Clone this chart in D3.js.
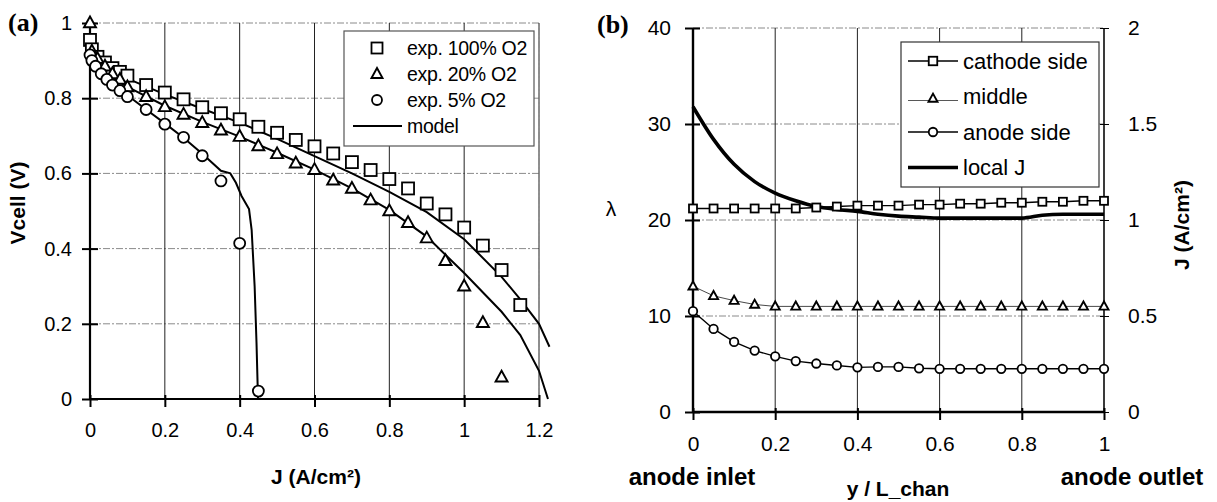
<!DOCTYPE html>
<html><head><meta charset="utf-8">
<script src="https://cdn.jsdelivr.net/npm/d3@7"></script>
<style>
body{margin:0;background:#fff}
svg{display:block}
text{font-family:"Liberation Sans",Arial,Helvetica,sans-serif;fill:#000}
text.serif{font-family:"Liberation Serif","Times New Roman",serif}
</style>
</head><body>
<svg id="c" width="1217" height="502"></svg>
<script>
// ---------- Panel (a) data ----------
const aTicksX = [0, 0.2, 0.4, 0.6, 0.8, 1, 1.2];
const aTicksY = [0, 0.2, 0.4, 0.6, 0.8, 1];

const sq100J = [0, 0.005, 0.02, 0.04, 0.06, 0.08, 0.1, 0.15, 0.2, 0.25, 0.3, 0.35, 0.4, 0.45, 0.5, 0.55, 0.6, 0.65, 0.7, 0.75, 0.8, 0.85, 0.9, 0.95, 1.0, 1.05, 1.1, 1.15];
const sq100V = [0.955, 0.93, 0.91, 0.895, 0.88, 0.87, 0.86, 0.835, 0.815, 0.797, 0.776, 0.76, 0.744, 0.724, 0.708, 0.689, 0.672, 0.653, 0.63, 0.609, 0.585, 0.56, 0.52, 0.491, 0.456, 0.408, 0.343, 0.25];

const tri20J = [0, 0.005, 0.02, 0.04, 0.06, 0.08, 0.1, 0.15, 0.2, 0.25, 0.3, 0.35, 0.4, 0.45, 0.5, 0.55, 0.6, 0.65, 0.7, 0.75, 0.8, 0.85, 0.9, 0.95, 1.0, 1.05, 1.1];
const tri20V = [1.0, 0.925, 0.905, 0.885, 0.865, 0.85, 0.83, 0.804, 0.777, 0.757, 0.735, 0.715, 0.698, 0.673, 0.652, 0.627, 0.61, 0.582, 0.56, 0.529, 0.5, 0.469, 0.428, 0.368, 0.3, 0.203, 0.058];

const circ5J = [0, 0.005, 0.015, 0.03, 0.045, 0.06, 0.08, 0.1, 0.15, 0.2, 0.25, 0.3, 0.35, 0.4, 0.45];
const circ5V = [0.915, 0.9, 0.885, 0.865, 0.85, 0.835, 0.82, 0.804, 0.77, 0.731, 0.696, 0.647, 0.58, 0.414, 0.021];

const m100J = [0, 0.02, 0.05, 0.1, 0.2, 0.3, 0.4, 0.5, 0.6, 0.7, 0.8, 0.9, 1.0, 1.1, 1.15, 1.2, 1.228];
const m100V = [0.95, 0.9, 0.875, 0.852, 0.81, 0.772, 0.735, 0.692, 0.646, 0.6, 0.551, 0.497, 0.425, 0.325, 0.265, 0.2, 0.139];

const m20J = [0, 0.02, 0.05, 0.1, 0.2, 0.3, 0.4, 0.5, 0.6, 0.7, 0.8, 0.9, 1.0, 1.1, 1.15, 1.2, 1.224];
const m20V = [0.93, 0.885, 0.86, 0.83, 0.78, 0.737, 0.698, 0.655, 0.61, 0.56, 0.503, 0.432, 0.335, 0.232, 0.17, 0.075, 0];

const m5J = [0, 0.02, 0.05, 0.1, 0.15, 0.2, 0.25, 0.3, 0.35, 0.375, 0.39, 0.405, 0.425, 0.432, 0.44, 0.445, 0.449];
const m5V = [0.915, 0.88, 0.85, 0.808, 0.77, 0.733, 0.695, 0.652, 0.607, 0.6, 0.575, 0.54, 0.505, 0.45, 0.3, 0.15, 0.0];

const aLegend = ["exp. 100% O2", "exp. 20% O2", "exp. 5% O2", "model"];

// ---------- Panel (b) data ----------
const bTicksX = [0, 0.2, 0.4, 0.6, 0.8, 1];
const bTicksL = [0, 10, 20, 30, 40];
const bTicksR = [0, 0.5, 1, 1.5, 2];
const yPos = [0, 0.05, 0.1, 0.15, 0.2, 0.25, 0.3, 0.35, 0.4, 0.45, 0.5, 0.55, 0.6, 0.65, 0.7, 0.75, 0.8, 0.85, 0.9, 0.95, 1.0];
const cathode = [21.2, 21.2, 21.2, 21.2, 21.2, 21.2, 21.3, 21.4, 21.5, 21.5, 21.5, 21.6, 21.6, 21.7, 21.7, 21.8, 21.8, 21.9, 21.9, 22.0, 22.0];
const middle = [13.1, 12.1, 11.6, 11.2, 11.0, 11.0, 11.0, 11.0, 11.0, 11.0, 11.0, 11.0, 11.0, 11.0, 11.0, 11.0, 11.0, 11.0, 11.0, 11.0, 11.0];
const anode = [10.5, 8.65, 7.3, 6.4, 5.8, 5.3, 5.05, 4.85, 4.65, 4.7, 4.7, 4.55, 4.5, 4.5, 4.5, 4.5, 4.5, 4.5, 4.5, 4.5, 4.5];
const localJ = [1.59, 1.42, 1.29, 1.2, 1.14, 1.1, 1.07, 1.055, 1.045, 1.03, 1.02, 1.015, 1.01, 1.01, 1.01, 1.01, 1.01, 1.025, 1.03, 1.03, 1.03];
const bLegend = ["cathode side", "middle", "anode side", "local J"];

// ---------- drawing ----------
const svg = d3.select("#c");
const GRIDDASH = "7,2,2,2";

function marker(g, type, x, y, s) {
  if (type === "sq") {
    g.append("rect").attr("x", x - s/2).attr("y", y - s/2).attr("width", s).attr("height", s)
      .attr("fill", "#fff").attr("stroke", "#000").attr("stroke-width", 1.8);
  } else if (type === "tri") {
    const h = s * 0.9;
    g.append("path").attr("d", `M${x},${y - h*0.6}L${x + s/2},${y + h*0.4}L${x - s/2},${y + h*0.4}Z`)
      .attr("fill", "#fff").attr("stroke", "#000").attr("stroke-width", 1.9).attr("stroke-linejoin", "miter");
  } else {
    g.append("circle").attr("cx", x).attr("cy", y).attr("r", s/2)
      .attr("fill", "#fff").attr("stroke", "#000").attr("stroke-width", 1.8);
  }
}

// ===== Panel (a) =====
const xA = d3.scaleLinear().domain([0, 1.2]).range([90, 539]);
const yA = d3.scaleLinear().domain([0, 1]).range([399, 23]);
const gA = svg.append("g");

gA.selectAll(".hg").data(aTicksY.filter(d => d > 0)).join("line")
  .attr("x1", xA(0)).attr("x2", xA(1.2)).attr("y1", d => yA(d)).attr("y2", d => yA(d))
  .attr("stroke", "#8a8a8a").attr("stroke-width", 1).attr("stroke-dasharray", GRIDDASH);
gA.selectAll(".vg").data(aTicksX.filter(d => d > 0)).join("line")
  .attr("x1", d => xA(d)).attr("x2", d => xA(d)).attr("y1", yA(0)).attr("y2", yA(1))
  .attr("stroke", "#222").attr("stroke-width", 1);
gA.append("line").attr("x1", xA(1.2)).attr("x2", xA(1.2)).attr("y1", yA(0)).attr("y2", yA(1))
  .attr("stroke", "#8a8a8a").attr("stroke-dasharray", GRIDDASH);

const axA_x = d3.axisBottom(xA).tickValues(aTicksX).tickFormat(d3.format("")).tickSize(0).tickPadding(24);
const axA_y = d3.axisLeft(yA).tickValues(aTicksY).tickFormat(d3.format("")).tickSize(0).tickPadding(18);
const gx = gA.append("g").attr("transform", `translate(0,${yA(0)})`).call(axA_x);
const gy = gA.append("g").attr("transform", `translate(${xA(0)},0)`).call(axA_y);
[gx, gy].forEach(g => { g.select(".domain").remove(); g.selectAll("text").attr("font-size", 20).style("font-family", "Liberation Sans, Arial, sans-serif"); });
gx.selectAll(".tick").append("line").attr("y1", -4).attr("y2", 8).attr("stroke", "#000").attr("stroke-width", 2);
gy.selectAll(".tick").append("line").attr("x1", -8).attr("x2", 8).attr("stroke", "#000").attr("stroke-width", 2);
gA.append("line").attr("x1", xA(0)).attr("x2", xA(0)).attr("y1", yA(0)).attr("y2", yA(1)).attr("stroke", "#000").attr("stroke-width", 2.2);
gA.append("line").attr("x1", xA(0)).attr("x2", xA(1.2)).attr("y1", yA(0)).attr("y2", yA(0)).attr("stroke", "#000").attr("stroke-width", 2.2);

const lineA = d3.line().x(d => xA(d[0])).y(d => yA(d[1])).curve(d3.curveLinear);
[[m100J, m100V], [m20J, m20V], [m5J, m5V]].forEach(([J, V]) => {
  gA.append("path").attr("d", lineA(J.map((j, i) => [j, V[i]])))
    .attr("fill", "none").attr("stroke", "#000").attr("stroke-width", 2);
});

const mkA = gA.append("g");
sq100J.forEach((j, i) => marker(mkA, "sq", xA(j), yA(sq100V[i]), 12));
tri20J.forEach((j, i) => marker(mkA, "tri", xA(j), yA(tri20V[i]), 12));
circ5J.forEach((j, i) => marker(mkA, "circ", xA(j), yA(circ5V[i]), 11));

const lgA = gA.append("g");
lgA.append("rect").attr("x", 344).attr("y", 31).attr("width", 190).attr("height", 115)
  .attr("fill", "#fff").attr("stroke", "#555").attr("stroke-width", 1.2);
const lgTypes = ["sq", "tri", "circ"];
aLegend.forEach((t, i) => {
  const cy = 48 + i * 26;
  if (i < 3) marker(lgA, lgTypes[i], 377, cy, i === 2 ? 10 : 11);
  else lgA.append("line").attr("x1", 353).attr("x2", 402).attr("y1", cy).attr("y2", cy).attr("stroke", "#000").attr("stroke-width", 2);
  lgA.append("text").attr("x", 407).attr("y", cy).attr("dy", "0.35em").attr("font-size", 19.5).attr("letter-spacing", -0.3).text(t);
});

gA.append("text").attr("class", "serif").attr("x", 8).attr("y", 31)
  .attr("font-weight", "bold").attr("font-size", 26).text("(a)");
gA.append("text").attr("transform", "translate(25,203) rotate(-90)").attr("text-anchor", "middle")
  .attr("font-weight", "bold").attr("font-size", 21).text("Vcell (V)");
gA.append("text").attr("x", 316).attr("y", 477).attr("dy", "0.35em").attr("text-anchor", "middle")
  .attr("font-weight", "bold").attr("font-size", 21).text("J (A/cm²)");

// ===== Panel (b) =====
const xB = d3.scaleLinear().domain([0, 1]).range([693, 1104]);
const yL = d3.scaleLinear().domain([0, 40]).range([412, 28]);
const yR = d3.scaleLinear().domain([0, 2]).range([412, 28]);
const gB = svg.append("g");

gB.selectAll(".hg").data(bTicksL.filter(d => d > 0)).join("line")
  .attr("x1", xB(0)).attr("x2", xB(1)).attr("y1", d => yL(d)).attr("y2", d => yL(d))
  .attr("stroke", "#8a8a8a").attr("stroke-width", 1).attr("stroke-dasharray", GRIDDASH);
gB.selectAll(".vg").data(bTicksX.filter(d => d > 0)).join("line")
  .attr("x1", d => xB(d)).attr("x2", d => xB(d)).attr("y1", yL(0)).attr("y2", yL(40))
  .attr("stroke", "#222").attr("stroke-width", 1);

const axB_x = d3.axisBottom(xB).tickValues(bTicksX).tickFormat(d3.format("")).tickSize(0).tickPadding(24);
const axB_l = d3.axisLeft(yL).tickValues(bTicksL).tickFormat(d3.format("")).tickSize(0).tickPadding(22);
const axB_r = d3.axisRight(yR).tickValues(bTicksR).tickFormat(d3.format("")).tickSize(0).tickPadding(24);
const gbx = gB.append("g").attr("transform", `translate(0,${yL(0)})`).call(axB_x);
const gbl = gB.append("g").attr("transform", `translate(${xB(0)},0)`).call(axB_l);
const gbr = gB.append("g").attr("transform", `translate(${xB(1)},0)`).call(axB_r);
[gbx, gbl, gbr].forEach(g => { g.select(".domain").remove(); g.selectAll("text").attr("font-size", 21).style("font-family", "Liberation Sans, Arial, sans-serif"); });
gbx.selectAll(".tick").append("line").attr("y1", -4).attr("y2", 8).attr("stroke", "#000").attr("stroke-width", 2);
gbl.selectAll(".tick").append("line").attr("x1", -8).attr("x2", 7).attr("stroke", "#000").attr("stroke-width", 2);
gbr.selectAll(".tick").append("line").attr("x1", -4).attr("x2", 5).attr("stroke", "#000").attr("stroke-width", 1);
gB.append("line").attr("x1", xB(1)).attr("x2", xB(1)).attr("y1", yL(0)).attr("y2", yL(40)).attr("stroke", "#000").attr("stroke-width", 1.2);
gB.append("line").attr("x1", xB(0)).attr("x2", xB(0)).attr("y1", yL(0)).attr("y2", yL(40)).attr("stroke", "#000").attr("stroke-width", 2.4);
gB.append("line").attr("x1", xB(0)).attr("x2", xB(1)).attr("y1", yL(0)).attr("y2", yL(0)).attr("stroke", "#000").attr("stroke-width", 2.4);

const lineL = d3.line().x((d, i) => xB(yPos[i])).y(d => yL(d));
[cathode, middle, anode].forEach((s, k) => {
  gB.append("path").attr("d", lineL(s)).attr("fill", "none")
    .attr("stroke", k === 1 ? "#333" : "#000").attr("stroke-width", k === 1 ? 0.9 : 1.4);
});
const lineR = d3.line().x((d, i) => xB(yPos[i])).y(d => yR(d)).curve(d3.curveMonotoneX);
gB.append("path").attr("d", lineR(localJ)).attr("fill", "none").attr("stroke", "#000").attr("stroke-width", 3.6);

const mkB = gB.append("g");
cathode.forEach((v, i) => marker(mkB, "sq", xB(yPos[i]), yL(v), 8));
middle.forEach((v, i) => marker(mkB, "tri", xB(yPos[i]), yL(v), 9));
anode.forEach((v, i) => marker(mkB, "circ", xB(yPos[i]), yL(v), 8.5));

const lgB = gB.append("g");
lgB.append("rect").attr("x", 901).attr("y", 42).attr("width", 198).attr("height", 145)
  .attr("fill", "#fff").attr("stroke", "#333").attr("stroke-width", 1.2);
bLegend.forEach((t, i) => {
  const cy = 61 + i * 35.5;
  if (i === 3) {
    lgB.append("line").attr("x1", 908).attr("x2", 958).attr("y1", cy).attr("y2", cy).attr("stroke", "#000").attr("stroke-width", 3.6);
  } else {
    lgB.append("line").attr("x1", 908).attr("x2", 958).attr("y1", cy + (i === 1 ? 4 : 0)).attr("y2", cy + (i === 1 ? 4 : 0))
      .attr("stroke", i === 1 ? "#444" : "#000").attr("stroke-width", i === 1 ? 0.9 : 1.4);
    marker(lgB, lgTypes[i], 933, cy + (i === 1 ? 2 : 0), i === 1 ? 9 : 8.5);
  }
  lgB.append("text").attr("x", 963).attr("y", cy).attr("dy", "0.35em").attr("font-size", 22).text(t);
});

gB.append("text").attr("class", "serif").attr("x", 597).attr("y", 33)
  .attr("font-weight", "bold").attr("font-size", 26).text("(b)");
gB.append("text").attr("x", 611).attr("y", 209).attr("dy", "0.35em").attr("text-anchor", "middle")
  .attr("font-size", 21).text("λ");
gB.append("text").attr("transform", "translate(1189,225) rotate(-90)").attr("text-anchor", "middle")
  .attr("font-weight", "bold").attr("font-size", 21).text("J (A/cm²)");
gB.append("text").attr("x", 692).attr("y", 477).attr("dy", "0.35em").attr("text-anchor", "middle")
  .attr("font-weight", "bold").attr("font-size", 24).text("anode inlet");
gB.append("text").attr("x", 1132).attr("y", 477).attr("dy", "0.35em").attr("text-anchor", "middle")
  .attr("font-weight", "bold").attr("font-size", 24).text("anode outlet");
gB.append("text").attr("x", 898).attr("y", 489).attr("dy", "0.35em").attr("text-anchor", "middle")
  .attr("font-weight", "bold").attr("font-size", 21).text("y / L_chan");
</script>
</body></html>
